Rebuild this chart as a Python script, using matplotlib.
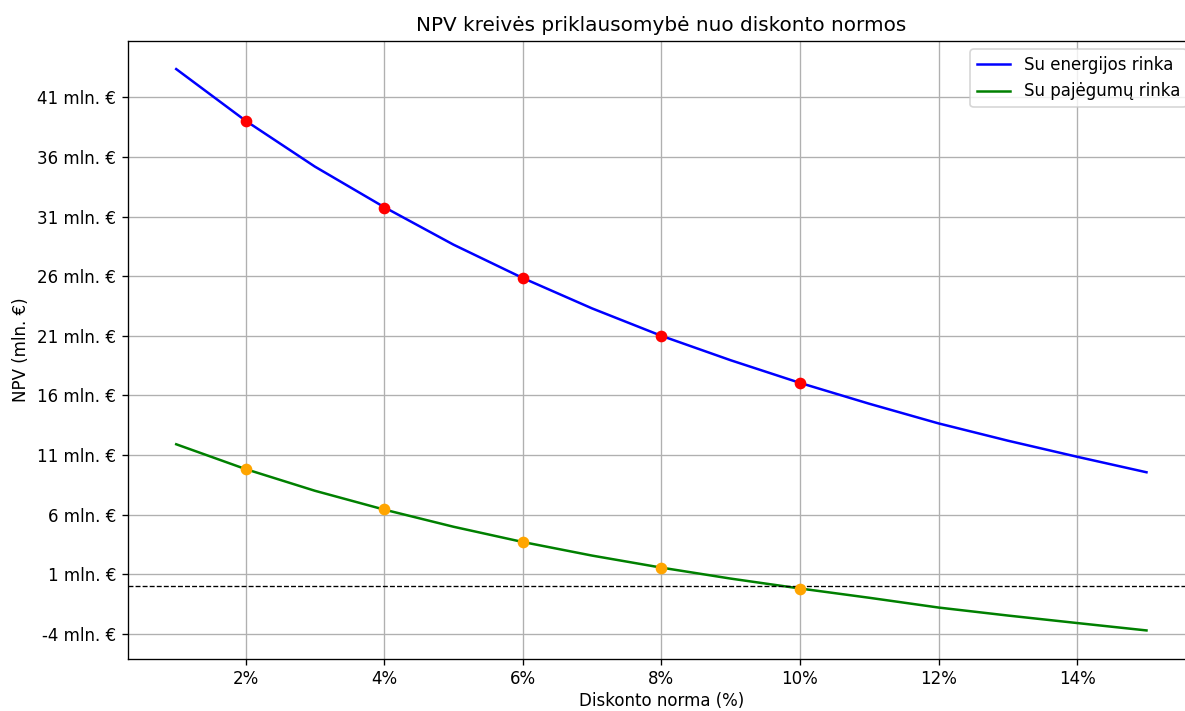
import numpy as np
import matplotlib
matplotlib.use("Agg")
import matplotlib.pyplot as plt

# discount rate (%) for the curves
rates = [1, 2, 3, 4, 5, 6, 7, 8, 9, 10, 11, 12, 13, 14, 15]
npv_energy = [43.38, 39.05, 35.2, 31.8, 28.65, 25.85, 23.3, 21.0, 18.95,
              17.05, 15.3, 13.65, 12.2, 10.85, 9.55]
npv_capacity = [11.9, 9.82, 8.0, 6.42, 4.98, 3.7, 2.56, 1.55, 0.63,
                -0.2, -0.98, -1.8, -2.47, -3.1, -3.72]

# computed points
point_rates = [2, 4, 6, 8, 10]
points_energy = [39.05, 31.75, 25.82, 20.97, 17.0]
points_capacity = [9.85, 6.5, 3.74, 1.53, -0.28]

y_ticks = list(range(-4, 42, 5))

W, H, DPI = 1185, 711, 120
fig = plt.figure(figsize=(W / DPI, H / DPI), dpi=DPI)
ax = fig.add_axes([127.7 / W, 52.5 / H, 1067.3 / W, 617.5 / H])

ax.plot(rates, npv_energy, color="blue", label="Su energijos rinka")
ax.plot(rates, npv_capacity, color="green", label="Su pajėgumų rinka")
ax.scatter(point_rates, points_energy, color="red", zorder=3)
ax.scatter(point_rates, points_capacity, color="orange", zorder=3)
ax.axhline(0, color="black", linestyle="--", linewidth=0.8)

ax.set_xticks([2, 4, 6, 8, 10, 12, 14])
ax.set_xticklabels([f"{x}%" for x in [2, 4, 6, 8, 10, 12, 14]])
ax.set_yticks(y_ticks)
ax.set_yticklabels([f"{v} mln. €" for v in y_ticks])

ax.set_title("NPV kreivės priklausomybė nuo diskonto normos")
ax.set_xlabel("Diskonto norma (%)", labelpad=2.5)
ax.set_ylabel("NPV (mln. €)")
ax.grid(True)
ax.legend(loc="upper right")

fig.savefig("out.png", dpi=DPI)
